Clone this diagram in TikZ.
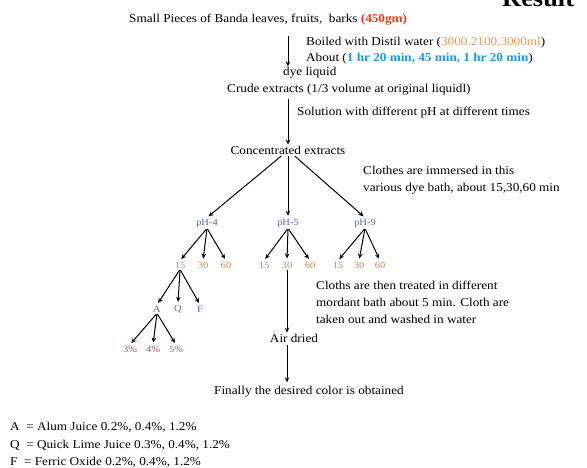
\documentclass[tikz,border=0pt]{standalone}
\usepackage{fontspec}
\setmainfont{Liberation Serif}[FakeStretch=1.1]
\usetikzlibrary{arrows.meta}
\definecolor{gmred}{RGB}{232,60,30}
\definecolor{mlorange}{RGB}{242,150,80}
\definecolor{minblue}{RGB}{30,150,230}
\definecolor{phblue}{RGB}{85,105,160}
\definecolor{numorange}{RGB}{210,130,70}
\definecolor{pctred}{RGB}{160,90,100}

\begin{document}
\begin{tikzpicture}[x=1pt,y=-1pt,
    txt/.style={inner sep=1pt, font=\fontsize{12}{17}\selectfont},
    lbl/.style={inner sep=1pt, font=\fontsize{9.5}{10}\selectfont},
    flow/.style={-{Stealth[length=5pt,width=4.5pt]}, line width=1pt},
    branch/.style={flow, shorten >=2pt, shorten <=1pt}]
    
    \useasboundingbox (0,0) rectangle (587,468);
    \coordinate (mainline) at (288,0);
    
    \node[anchor=base west, inner sep=0pt, font=\fontsize{24}{24}\selectfont\bfseries] at (502,7) (result) {Result};
    
    \node[txt, anchor=west] at (128,20) (top) {Small Pieces of Banda leaves, fruits,\ \ barks \textcolor{gmred}{\bfseries(450gm)}};
    \node[txt, anchor=west] at (305,43) (boil) {Boiled with Distil water (\textcolor{mlorange}{3000.2100,3000ml})};
    \node[txt, anchor=west] at (305,59) (about) {About (\textcolor{minblue}{\bfseries 1 hr 20 min, 45 min, 1 hr 20 min})};
    \node[txt, anchor=west] at (282,73) (dye) {dye liquid};
    \node[txt, anchor=west] at (226,90) (crude) {Crude extracts (1/3 volume at original liquidl)};
    \node[txt, anchor=west] at (296,113) (solution) {Solution with different pH at different times};
    \node[txt] at (288,150) (conc) {Concentrated extracts};
    \node[txt, anchor=west, align=left] at (362,180) (immersed) {Clothes are immersed in this\\various dye bath, about 15,30,60 min};
    
    \draw[flow, shorten <=9pt] (top.south -| mainline) -- (dye.north -| mainline);
    \draw[flow, shorten <=2pt] (crude.south -| mainline) -- (conc.north -| mainline);
    
    \node[lbl, text=phblue] at (207,223) (ph4) {pH-4};
    \node[lbl, text=phblue] at (288,223) (ph5) {pH-5};
    \node[lbl, text=phblue] at (365,223) (ph9) {pH-9};
    
    \draw[branch] ([xshift=-6pt]conc.south) -- (ph4.north);
    \draw[branch] (conc.south) -- (ph5.north);
    \draw[branch] ([xshift=6pt]conc.south) -- (ph9.north);
    
    \node[lbl, text=numorange] at (180,265) (t4a) {15};
    \node[lbl, text=numorange] at (203,265) (t4b) {30};
    \node[lbl, text=numorange] at (226,265) (t4c) {60};
    \node[lbl, text=numorange] at (264,265) (t5a) {15};
    \node[lbl, text=numorange] at (287,265) (t5b) {30};
    \node[lbl, text=numorange] at (310,265) (t5c) {60};
    \node[lbl, text=numorange] at (338,265) (t9a) {15};
    \node[lbl, text=numorange] at (359,265) (t9b) {30};
    \node[lbl, text=numorange] at (380,265) (t9c) {60};
    
    \draw[branch] (ph4.south) -- (t4a.north);
    \draw[branch] (ph4.south) -- (t4b.north);
    \draw[branch] (ph4.south) -- (t4c.north);
    \draw[branch] (ph5.south) -- (t5a.north);
    \draw[branch] (ph5.south) -- (t5b.north);
    \draw[branch] (ph5.south) -- (t5c.north);
    \draw[branch] (ph9.south) -- (t9a.north);
    \draw[branch] (ph9.south) -- (t9b.north);
    \draw[branch] (ph9.south) -- (t9c.north);
    
    \node[lbl, text=phblue] at (157,309) (alum) {A};
    \node[lbl, text=phblue] at (178,309) (lime) {Q};
    \node[lbl, text=phblue] at (200,309) (ferric) {F};
    
    \draw[branch] (t4a.south) -- (alum.north);
    \draw[branch] (t4a.south) -- (lime.north);
    \draw[branch] (t4a.south) -- (ferric.north);
    
    \node[lbl, text=pctred] at (130,349) (p3) {3\%};
    \node[lbl, text=pctred] at (153,349) (p4) {4\%};
    \node[lbl, text=pctred] at (176,349) (p5) {5\%};
    
    \draw[branch] (alum.south) -- (p3.north);
    \draw[branch] (alum.south) -- (p4.north);
    \draw[branch] (alum.south) -- (p5.north);
    
    \node[txt, anchor=west, align=left] at (315,302) (treated) {Cloths are then treated in different\\mordant bath about 5 min. Cloth are\\taken out and washed in water};
    \node[txt] at (294,338) (air) {Air dried};
    \node[txt] at (309,392) (final) {Finally the desired color is obtained};
    
    \draw[flow, shorten <=1pt] (t5b.south) -- (air.north -| t5b.south);
    \draw[flow, shorten <=2pt, shorten >=3pt] (air.south -| t5b.south) -- (final.north -| t5b.south);
    
    \node[txt, anchor=north west, align=left, font=\fontsize{12}{17.5}\selectfont] at (9,421) (legend) {A\ \ = Alum Juice 0.2\%, 0.4\%, 1.2\%\\Q\ \ = Quick Lime Juice 0.3\%, 0.4\%, 1.2\%\\F\ \ = Ferric Oxide 0.2\%, 0.4\%, 1.2\%};
    
\end{tikzpicture}
\end{document}
